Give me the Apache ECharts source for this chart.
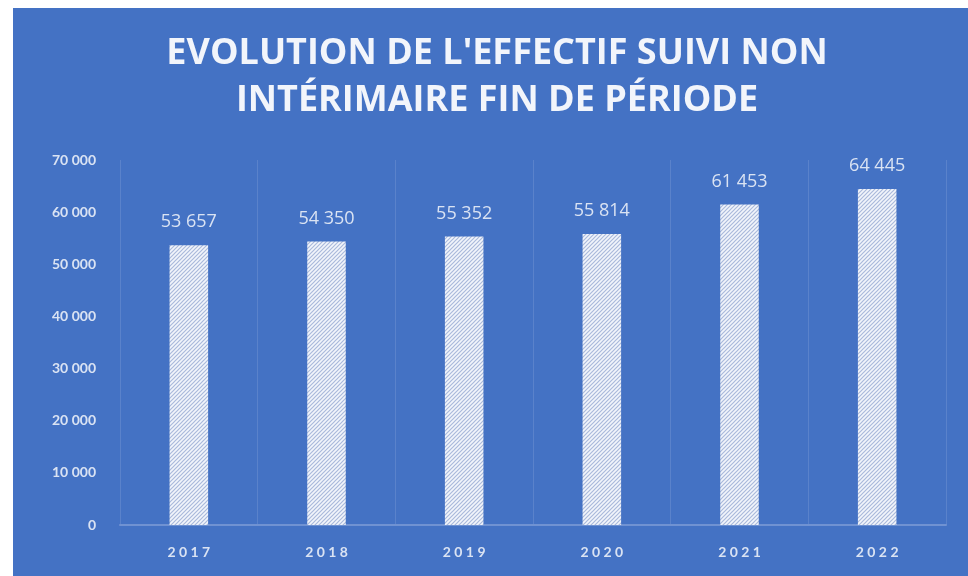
<!DOCTYPE html>
<html>
<head>
  <meta charset="utf-8">
  <title>Evolution de l'effectif</title>
  <script src="https://cdn.jsdelivr.net/npm/echarts@6/dist/echarts.min.js"></script>
  <style>
    body { margin: 0; background: #ffffff; }
    #chart { width: 968px; height: 576px; }
  </style>
</head>
<body>
  <div id="chart"></div>
  <script>
    // données
    var years = ['2017', '2018', '2019', '2020', '2021', '2022'];
    var effectif = [53657, 54350, 55352, 55814, 61453, 64445];
    var titleText = "EVOLUTION DE L'EFFECTIF SUIVI NON\nINTÉRIMAIRE FIN DE PÉRIODE";

    var blue = '#4472c4';
    var pale = '#dae3f3';

    // motif hachuré pour les barres
    function hatch() {
      var c = document.createElement('canvas');
      c.width = 4; c.height = 4;
      var g = c.getContext('2d');
      g.fillStyle = '#f2f5fb';
      g.fillRect(0, 0, 4, 4);
      g.strokeStyle = '#a9b9db';
      g.lineWidth = 1.2;
      g.beginPath();
      g.moveTo(0, 4); g.lineTo(4, 0);
      g.moveTo(-1, 1); g.lineTo(1, -1);
      g.moveTo(3, 5); g.lineTo(5, 3);
      g.stroke();
      return c;
    }

    function spaced(n) {
      return String(n).replace(/\B(?=(\d{3})+(?!\d))/g, ' ');
    }

    var myChart = echarts.init(document.getElementById('chart'));

    var option = {
      backgroundColor: '#ffffff',
      animation: false,
      graphic: [{
        type: 'rect',
        z: -10,
        shape: { x: 13, y: 8, width: 955, height: 568 },
        style: { fill: blue }
      }],
      title: {
        text: titleText,
        left: 492,
        top: 25,
        textAlign: 'center',
        textStyle: {
          color: '#f2f5fb',
          fontFamily: 'Open Sans',
          fontWeight: 'bold',
          fontSize: 36,
          lineHeight: 47
        }
      },
      grid: { left: 120, right: 22, top: 160, bottom: 51 },
      xAxis: {
        type: 'category',
        data: years,
        axisLine: { lineStyle: { color: '#7092d2', width: 2 } },
        axisTick: { show: false },
        splitLine: { show: true, lineStyle: { color: '#5a82cb', width: 1 } },
        axisLabel: {
          color: pale,
          fontFamily: 'Lato',
          fontWeight: 'bold',
          fontSize: 14,
          margin: 20,
          formatter: function (v) { return v.split('').join(' '); }
        }
      },
      yAxis: {
        type: 'value',
        min: 0,
        max: 70000,
        interval: 10000,
        axisLine: { show: false },
        axisTick: { show: false },
        splitLine: { show: false },
        axisLabel: {
          color: pale,
          fontFamily: 'Lato',
          fontWeight: 'bold',
          fontSize: 14,
          margin: 24,
          formatter: function (v) { return spaced(v); }
        }
      },
      series: [{
        type: 'bar',
        data: effectif,
        barWidth: '28%',
        itemStyle: { color: { image: hatch(), repeat: 'repeat' } },
        label: {
          show: true,
          position: 'top',
          distance: 14,
          color: pale,
          fontFamily: 'Open Sans',
          fontSize: 18,
          formatter: function (p) { return spaced(p.value); }
        }
      }]
    };

    myChart.setOption(option);
  </script>
</body>
</html>
